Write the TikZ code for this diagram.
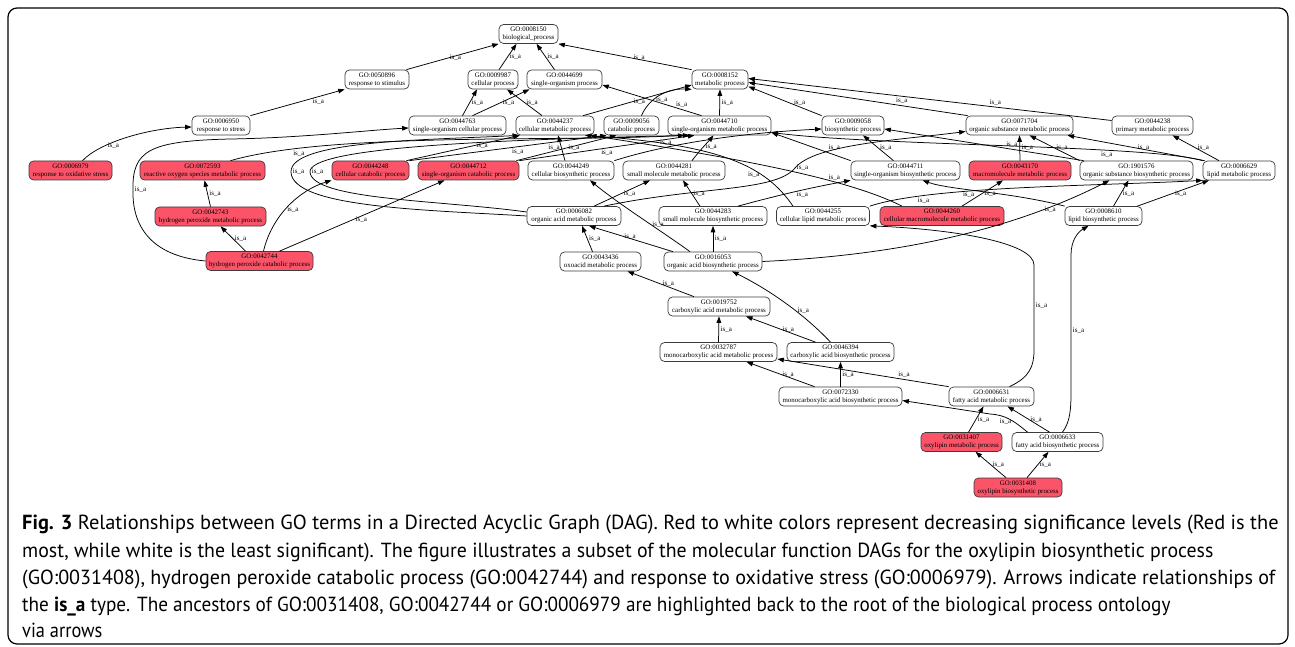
\documentclass[tikz,border=0pt]{standalone}
\usepackage{graphicx}
\usepackage{fontspec}
\setmainfont{Liberation Serif}
\newfontfamily\capfont{PT Sans}
\usetikzlibrary{arrows.meta}
\definecolor{sigred}{RGB}{251,83,104}
\definecolor{boxline}{RGB}{60,60,60}
\tikzset{
  goterm/.style={draw=boxline, line width=0.7pt, rounded corners=4.5pt, fill=white,
    minimum height=19pt, inner sep=0pt, align=center, font=\fontsize{6.9}{8}\selectfont},
  sigterm/.style={goterm, fill=sigred},
  isa/.style={-{Triangle[length=6.5pt,width=4.6pt]}, line width=0.75pt},
  lbl/.style={font=\fontsize{7}{8}\selectfont, inner sep=1.5pt},
  capline/.style={anchor=base west, inner sep=0pt, font=\capfont\fontsize{20.4}{24}\selectfont},
}

\begin{document}
\begin{tikzpicture}[x=1pt, y=-1pt]
    \useasboundingbox (0,0) rectangle (1295,647);
    \draw[line width=1.2pt, rounded corners=9pt] (8,8) rectangle (1288,644);
    % terms, rank by rank
    \node[goterm, minimum width=59pt] (go0008150) at (528.5,34) {GO:0008150\\biological\_process};
    \node[goterm, minimum width=64pt] (go0050896) at (377,79.5) {GO:0050896\\response to stimulus};
    \node[goterm, minimum width=50pt] (go0009987) at (493,79.5) {GO:0009987\\cellular process};
    \node[goterm, minimum width=75pt] (go0044699) at (564.5,79.5) {GO:0044699\\single-organism process};
    \node[goterm, minimum width=56pt] (go0008152) at (720,79.5) {GO:0008152\\metabolic process};
    \node[goterm, minimum width=58pt] (go0006950) at (221,125.5) {GO:0006950\\response to stress};
    \node[goterm, minimum width=97pt] (go0044763) at (457.5,125.5) {GO:0044763\\single-organism cellular process};
    \node[goterm, minimum width=78pt] (go0044237) at (555,125.5) {GO:0044237\\cellular metabolic process};
    \node[goterm, minimum width=55pt] (go0009056) at (631.5,125.5) {GO:0009056\\catabolic process};
    \node[goterm, minimum width=103pt] (go0044710) at (719.5,125.5) {GO:0044710\\single-organism metabolic process};
    \node[goterm, minimum width=62pt] (go0009058) at (853,125.5) {GO:0009058\\biosynthetic process};
    \node[goterm, minimum width=107pt] (go0071704) at (1019.5,125.5) {GO:0071704\\organic substance metabolic process};
    \node[goterm, minimum width=81pt] (go0044238) at (1152.5,125.5) {GO:0044238\\primary metabolic process};
    \node[sigterm, minimum width=83pt] (go0006979) at (70.5,170.5) {GO:0006979\\response to oxidative stress};
    \node[sigterm, minimum width=125pt] (go0072593) at (202.5,170.5) {GO:0072593\\reactive oxygen species metabolic process};
    \node[sigterm, minimum width=77pt] (go0044248) at (370.5,170.5) {GO:0044248\\cellular catabolic process};
    \node[sigterm, minimum width=101pt] (go0044712) at (468.5,170.5) {GO:0044712\\single-organism catabolic process};
    \node[goterm, minimum width=86pt] (go0044249) at (571,170.5) {GO:0044249\\cellular biosynthetic process};
    \node[goterm, minimum width=102pt] (go0044281) at (674,170.5) {GO:0044281\\small molecule metabolic process};
    \node[goterm, minimum width=109pt] (go0044711) at (905.5,170.5) {GO:0044711\\single-organism biosynthetic process};
    \node[sigterm, minimum width=102pt] (go0043170) at (1020,170.5) {GO:0043170\\macromolecule metabolic process};
    \node[goterm, minimum width=113pt] (go1901576) at (1136.5,170.5) {GO:1901576\\organic substance biosynthetic process};
    \node[goterm, minimum width=72pt] (go0006629) at (1239,170.5) {GO:0006629\\lipid metabolic process};
    \node[sigterm, minimum width=111pt] (go0042743) at (210.5,216.5) {GO:0042743\\hydrogen peroxide metabolic process};
    \node[goterm, minimum width=94pt] (go0006082) at (574,216) {GO:0006082\\organic acid metabolic process};
    \node[goterm, minimum width=108pt] (go0044283) at (713,216) {GO:0044283\\small molecule biosynthetic process};
    \node[goterm, minimum width=93pt] (go0044255) at (823,216) {GO:0044255\\cellular lipid metabolic process};
    \node[sigterm, minimum width=124pt] (go0044260) at (942,216) {GO:0044260\\cellular macromolecule metabolic process};
    \node[goterm, minimum width=77pt] (go0008610) at (1103.5,216) {GO:0008610\\lipid biosynthetic process};
    \node[sigterm, minimum width=107pt] (go0042744) at (259.5,261) {GO:0042744\\hydrogen peroxide catabolic process};
    \node[goterm, minimum width=81pt] (go0043436) at (600.5,261.5) {GO:0043436\\oxoacid metabolic process};
    \node[goterm, minimum width=98pt] (go0016053) at (713,261.5) {GO:0016053\\organic acid biosynthetic process};
    \node[goterm, minimum width=102pt] (go0019752) at (719,306.5) {GO:0019752\\carboxylic acid metabolic process};
    \node[goterm, minimum width=117pt] (go0032787) at (718.5,352) {GO:0032787\\monocarboxylic acid metabolic process};
    \node[goterm, minimum width=107pt] (go0046394) at (840.5,352) {GO:0046394\\carboxylic acid biosynthetic process};
    \node[goterm, minimum width=123pt] (go0072330) at (840.5,396.5) {GO:0072330\\monocarboxylic acid biosynthetic process};
    \node[goterm, minimum width=85pt] (go0006631) at (991.5,396.5) {GO:0006631\\fatty acid metabolic process};
    \node[sigterm, minimum width=81pt] (go0031407) at (961.5,442) {GO:0031407\\oxylipin metabolic process};
    \node[goterm, minimum width=91pt] (go0006633) at (1057.5,442) {GO:0006633\\fatty acid biosynthetic process};
    \node[sigterm, minimum width=88pt] (go0031408) at (1018,487.5) {GO:0031408\\oxylipin biosynthetic process};

    % up to the root
    \draw[isa] ([xshift=-3pt]go0050896.north east) -- node[lbl,right,pos=.45]{is\_a} (go0008150.south west);
    \draw[isa] ([xshift=6pt]go0009987.north) -- node[lbl,right]{is\_a} ([xshift=-12pt]go0008150.south);
    \draw[isa] ([xshift=-10pt]go0044699.north) -- node[lbl,right]{is\_a} ([xshift=8pt]go0008150.south);
    \draw[isa] (go0008152.north west) -- node[lbl,right,pos=.45]{is\_a} (go0008150.south east);
    % second rank
    \draw[isa] (go0006950.north east) -- node[lbl,below,pos=.72]{is\_a} (go0050896.south west);
    \draw[isa] ([xshift=5pt]go0044763.north) -- node[lbl,right]{is\_a} ([xshift=-16pt]go0009987.south);
    \draw[isa] ([xshift=15pt]go0044763.north) -- node[lbl,right]{is\_a} ([xshift=-35pt]go0044699.south);
    \draw[isa] ([xshift=-13pt]go0044237.north) -- node[lbl,right]{is\_a} ([xshift=14pt]go0009987.south);
    \draw[isa] ([xshift=28pt]go0044237.north) -- node[lbl,right,pos=.45]{is\_a} ([yshift=-5.5pt]go0008152.west);
    \draw[isa] ([xshift=10pt]go0009056.north) .. controls (648,100) and (665,88) .. node[lbl,right,pos=.4]{is\_a} (go0008152.south west);
    \draw[isa] ([xshift=-18pt]go0044710.north) -- node[lbl,above,pos=.2]{is\_a} ([yshift=-5.5pt]go0044699.east);
    \draw[isa] (go0044710.north) -- node[lbl,right]{is\_a} (go0008152.south);
    \draw[isa] (go0009058.north west) -- node[lbl,above,pos=.3]{is\_a} ([yshift=-7pt]go0008152.east);
    \draw[isa] ([xshift=2pt]go0071704.north west) -- node[lbl,above,pos=.3]{is\_a} ([yshift=-3pt]go0008152.east);
    \draw[isa] ([yshift=5pt]go0044238.west) -- node[lbl,above,pos=.32]{is\_a} ([yshift=1pt]go0008152.east);
    % third rank
    \draw[isa] ([xshift=12pt]go0006979.north) .. controls (100,142) and (150,128) .. node[lbl,right,pos=.3]{is\_a} ([yshift=-1.5pt]go0006950.west);
    \draw[isa] ([xshift=28pt]go0072593.north) .. controls (330,132) and (560,142) .. node[lbl,below right,pos=.17]{is\_a} ([xshift=-35pt]go0044710.south);
    \draw[isa] ([xshift=-3pt]go0044248.north east) -- node[lbl,right,pos=.6]{is\_a} ([xshift=-35pt]go0044237.south);
    \draw[isa] (go0044248.north east) -- node[lbl,below,pos=.55]{is\_a} ([xshift=-25pt]go0009056.south);
    \draw[isa] ([xshift=-3pt]go0044712.north east) -- node[lbl,right]{is\_a} ([xshift=-15pt]go0009056.south);
    \draw[isa] (go0044712.north east) -- node[lbl,below,pos=.5]{is\_a} ([xshift=-25pt]go0044710.south);
    \draw[isa] ([xshift=-6pt]go0044249.north) -- node[lbl,left]{is\_a} ([xshift=3pt]go0044237.south);
    \draw[isa] (go0044249.north east) .. controls (680,140) and (760,132) .. node[lbl,above,pos=.25]{is\_a} ([yshift=-3.5pt]go0009058.west);
    \draw[isa] ([xshift=18pt]go0044281.north) .. controls (700,150) and (708,142) .. node[lbl,right]{is\_a} ([xshift=-6pt]go0044710.south);
    \draw[isa] (go0044711.north west) -- node[lbl,above right,pos=.3]{is\_a} ([yshift=-7pt]go0044710.east);
    \draw[isa] ([xshift=-12pt]go0044711.north) -- node[lbl,right]{is\_a} ([xshift=10pt]go0009058.south);
    \draw[isa] (go0043170.north) -- node[lbl,right]{is\_a} (go0071704.south);
    \draw[isa] (go1901576.north west) -- node[lbl,right]{is\_a} ([xshift=10pt]go0071704.south);
    \draw[isa] ([xshift=4pt]go1901576.north west) -- node[lbl,above,pos=.36]{is\_a} ([yshift=-3.5pt]go0009058.east);
    \draw[isa] ([xshift=-20pt]go0006629.north) -- node[lbl,right]{is\_a} ([xshift=20pt]go0044238.south);
    \draw[isa] ([xshift=2pt]go0006629.north west) -- node[lbl,right]{is\_a} ([xshift=48pt]go0071704.south);
    \draw[isa] (go0006629.north west) .. controls (1150,145) and (880,146) .. node[lbl,below,pos=.3]{is\_a} ([yshift=-7pt]go0044710.east);
    % fourth rank
    \draw[isa] (go0042743.north) -- node[lbl,right]{is\_a} ([xshift=2pt]go0072593.south);
    \draw[isa] ([xshift=20pt]go0006082.north) -- node[lbl,right]{is\_a} ([xshift=-24pt]go0044281.south);
    \draw[isa] (go0006082.west) .. controls (430,210) and (292,208) .. (291,172) node[lbl,right]{is\_a}
        .. controls (290,140) and (430,140) .. ([xshift=-36pt]go0044237.south);
    \draw[isa] ([yshift=4pt]go0006082.west) .. controls (440,200) and (312,200) .. (310,172) node[lbl,right]{is\_a}
        .. controls (309,148) and (480,140) .. ([xshift=-30pt]go0044710.south);
    \draw[isa] ([xshift=30pt]go0006082.north) .. controls (700,186) and (775,192) .. (795,168) node[lbl,right]{is\_a}
        .. controls (815,144) and (900,140) .. ([yshift=-6pt]go0071704.west);
    \draw[isa] ([xshift=-13pt]go0044283.north) -- node[lbl,right]{is\_a} ([xshift=9pt]go0044281.south);
    \draw[isa] ([xshift=25pt]go0044283.north) .. controls (790,192) and (820,186) .. node[lbl,below]{is\_a} (go0044711.south west);
    \draw[isa] ([xshift=-30pt]go0044255.north) .. controls (765,165) and (720,145) .. node[lbl,left,pos=.3]{is\_a} ([xshift=30pt]go0044237.south);
    \draw[isa] (go0044255.north east) .. controls (930,186) and (1100,186) .. node[lbl,below,pos=.22]{is\_a} (go0006629.south west);
    \draw[isa] ([xshift=20pt]go0044260.north) -- node[lbl,right]{is\_a} ([xshift=-17pt]go0043170.south);
    \draw[isa] ([xshift=-40pt]go0044260.north) .. controls (850,180) and (750,160) .. node[lbl,above,pos=.33]{is\_a} ([xshift=35pt]go0044237.south);
    \draw[isa] (go0008610.north west) .. controls (1010,192) and (950,190) .. node[lbl,below,pos=.6]{is\_a} ([xshift=17pt]go0044711.south);
    \draw[isa] ([xshift=10pt]go0008610.north) -- node[lbl,right]{is\_a} ([xshift=-8pt]go1901576.south);
    \draw[isa] ([xshift=-5pt]go0008610.north east) -- node[lbl,right]{is\_a} ([xshift=-30pt]go0006629.south);
    % fifth rank
    \draw[isa] ([xshift=-14pt]go0042744.north) -- node[lbl,right]{is\_a} ([xshift=10pt]go0042743.south);
    \draw[isa] ([xshift=4pt]go0042744.north) .. controls (272,215) and (300,190) .. node[lbl,right,pos=.45]{is\_a} (go0044248.south west);
    \draw[isa] ([xshift=20pt]go0042744.north) -- node[lbl,right,pos=.45]{is\_a} ([xshift=-24pt]go0044712.south);
    \draw[isa] (go0042744.west) .. controls (150,256) and (132,225) .. (133,190) node[lbl,right]{is\_a}
        .. controls (132,150) and (150,141) .. (230,139) .. controls (300,138) and (370,130) .. ([yshift=-2.5pt]go0044763.west);
    \draw[isa] ([xshift=-8pt]go0043436.north) -- node[lbl,right]{is\_a} ([xshift=8pt]go0006082.south);
    \draw[isa] ([xshift=-40pt]go0016053.north) -- node[lbl,right,pos=.6]{is\_a} ([xshift=15pt]go0006082.south);
    \draw[isa] (go0016053.north) -- node[lbl,right]{is\_a} (go0044283.south);
    \draw[isa] ([xshift=-23pt]go0016053.north) .. controls (660,230) and (620,205) .. node[lbl,right,pos=.4]{is\_a} ([xshift=19pt]go0044249.south);
    \draw[isa] (go0016053.east) .. controls (880,256) and (1000,236) .. node[lbl,right,pos=.8]{is\_a} ([xshift=-27pt]go1901576.south);
    % acids
    \draw[isa] ([xshift=-25pt]go0019752.north) -- node[lbl,right]{is\_a} ([xshift=27pt]go0043436.south);
    \draw[isa] ([xshift=-10pt]go0046394.north) .. controls (805,315) and (770,290) .. node[lbl,right,pos=.4]{is\_a} ([xshift=19pt]go0016053.south);
    \draw[isa] (go0032787.north) -- node[lbl,right]{is\_a} (go0019752.south);
    \draw[isa] ([xshift=-25pt]go0046394.north) -- node[lbl,right]{is\_a} ([xshift=27pt]go0019752.south);
    \draw[isa] ([xshift=-26pt]go0072330.north) -- node[lbl,right]{is\_a} ([xshift=28pt]go0032787.south);
    \draw[isa] (go0072330.north) -- node[lbl,right]{is\_a} (go0046394.south);
    \draw[isa] (go0006631.north west) -- node[lbl,above,pos=.26]{is\_a} ([yshift=-7pt]go0032787.east);
    \draw[isa] ([xshift=18pt]go0006631.north) .. controls (1030,377) and (1034,366) .. (1034,350)
        -- node[lbl,right,pos=.52]{is\_a} (1034,265) .. controls (1034,242) and (950,229) .. (go0044255.south east);
    \draw[isa] ([xshift=5pt]go0006633.north) .. controls (1070,422) and (1071,410) .. (1071,392)
        -- node[lbl,right,pos=.45]{is\_a} (1071,255) .. controls (1071,240) and (1078,232) .. ([xshift=-15pt]go0008610.south);
    \draw[isa] ([xshift=-30pt]go0006633.north) .. controls (1014,421) and (1006,415) .. node[lbl,left,pos=.4]{is\_a} (990,414)
        -- ([yshift=-4pt]go0072330.east);
    \draw[isa] ([xshift=-8pt]go0006633.north) -- node[lbl,right]{is\_a} ([xshift=16pt]go0006631.south);
    \draw[isa] ([xshift=7pt]go0031407.north) -- node[lbl,right]{is\_a} ([xshift=-8pt]go0006631.south);
    \draw[isa] ([xshift=-12pt]go0031408.north) -- node[lbl,right]{is\_a} ([xshift=14pt]go0031407.south);
    \draw[isa] ([xshift=9pt]go0031408.north) -- node[lbl,right]{is\_a} ([xshift=-9pt]go0006633.south);

    % caption
    \node[capline] (cap1) at (22,529) {\textbf{Fig. 3} Relationships between GO terms in a Directed Acyclic Graph (DAG). Red to white colors represent decreasing significance levels (Red is the};
    \node[capline] (cap2) at (22,557) {\scalebox{0.972}[1]{most, while white is the least significant). The figure illustrates a subset of the molecular function DAGs for the oxylipin biosynthetic process}};
    \node[capline] (cap3) at (22,584) {\scalebox{0.985}[1]{(GO:0031408), hydrogen peroxide catabolic process (GO:0042744) and response to oxidative stress (GO:0006979). Arrows indicate relationships of}};
    \node[capline] (cap4) at (22,611) {\scalebox{0.942}[1]{the \textbf{is\_a} type. The ancestors of GO:0031408, GO:0042744 or GO:0006979 are highlighted back to the root of the biological process ontology}};
    \node[capline] (cap5) at (22,637) {\scalebox{0.9}[1]{via arrows}};
\end{tikzpicture}
\end{document}
